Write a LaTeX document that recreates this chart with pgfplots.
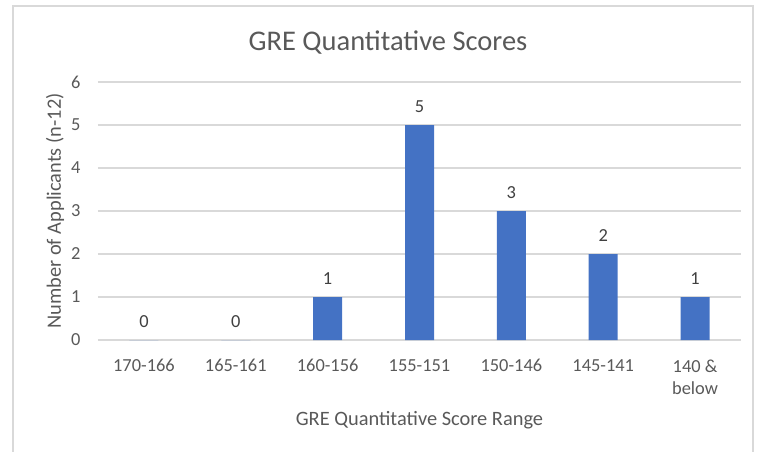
\documentclass[border=0pt]{standalone}
\usepackage{fontspec}
\setmainfont{Carlito}
\usepackage{pgfplots}
\pgfplotsset{compat=1.18}
\definecolor{barblue}{HTML}{4472C4}
\definecolor{txt}{HTML}{595959}
\definecolor{gridc}{HTML}{D9D9D9}
\definecolor{lbl}{HTML}{404040}
\begin{document}
\begin{tikzpicture}
\path[use as bounding box] (-98pt,-112pt) rectangle (667pt,340pt);
\draw[gridc, line width=1.5pt] (-85pt,-140pt) rectangle (655pt,334pt);
\node[text=txt, font=\fontsize{28.5}{32}\selectfont] at (290pt,297pt) {GRE Quantitative Scores};
\begin{axis}[
  at={(0,0)}, anchor=south west,
  scale only axis, width=643pt, height=258pt,
  xmin=-0.5, xmax=6.5, ymin=0, ymax=6,
  /pgf/number format/assume math mode=true,
  axis line style={draw=none},
  tick style={draw=none},
  major tick length=0pt,
  ymajorgrids, grid style={gridc, line width=1.2pt},
  ytick={0,1,2,3,4,5,6},
  xtick={0,1,2,3,4,5,6},
  xticklabels={170-166,165-161,160-156,155-151,150-146,145-141,{140 \&\\below}},
  xticklabel style={align=center, font=\fontsize{18.4}{22}\selectfont, text=txt, yshift=-16pt},
  yticklabel style={font=\fontsize{18.4}{22}\selectfont, text=txt, xshift=-14pt},
  xlabel={GRE Quantitative Score Range},
  ylabel={Number of Applicants (n-12)},
  xlabel style={at={([yshift=-80pt]axis description cs:0.5,0)}, anchor=center, font=\fontsize{20.4}{24}\selectfont, text=txt},
  ylabel style={at={([xshift=-43pt]axis description cs:0,0.5)}, anchor=center, font=\fontsize{20.4}{24}\selectfont, text=txt},
  nodes near coords,
  every node near coord/.append style={font=\fontsize{18.4}{22}\selectfont, text=lbl, anchor=south, yshift=8.5pt},
]
\addplot[ybar, bar width=29pt, fill=barblue, draw=none] coordinates {
  (0,0) (1,0) (2,1) (3,5) (4,3) (5,2) (6,1)
};
\end{axis}
\end{tikzpicture}
\end{document}
